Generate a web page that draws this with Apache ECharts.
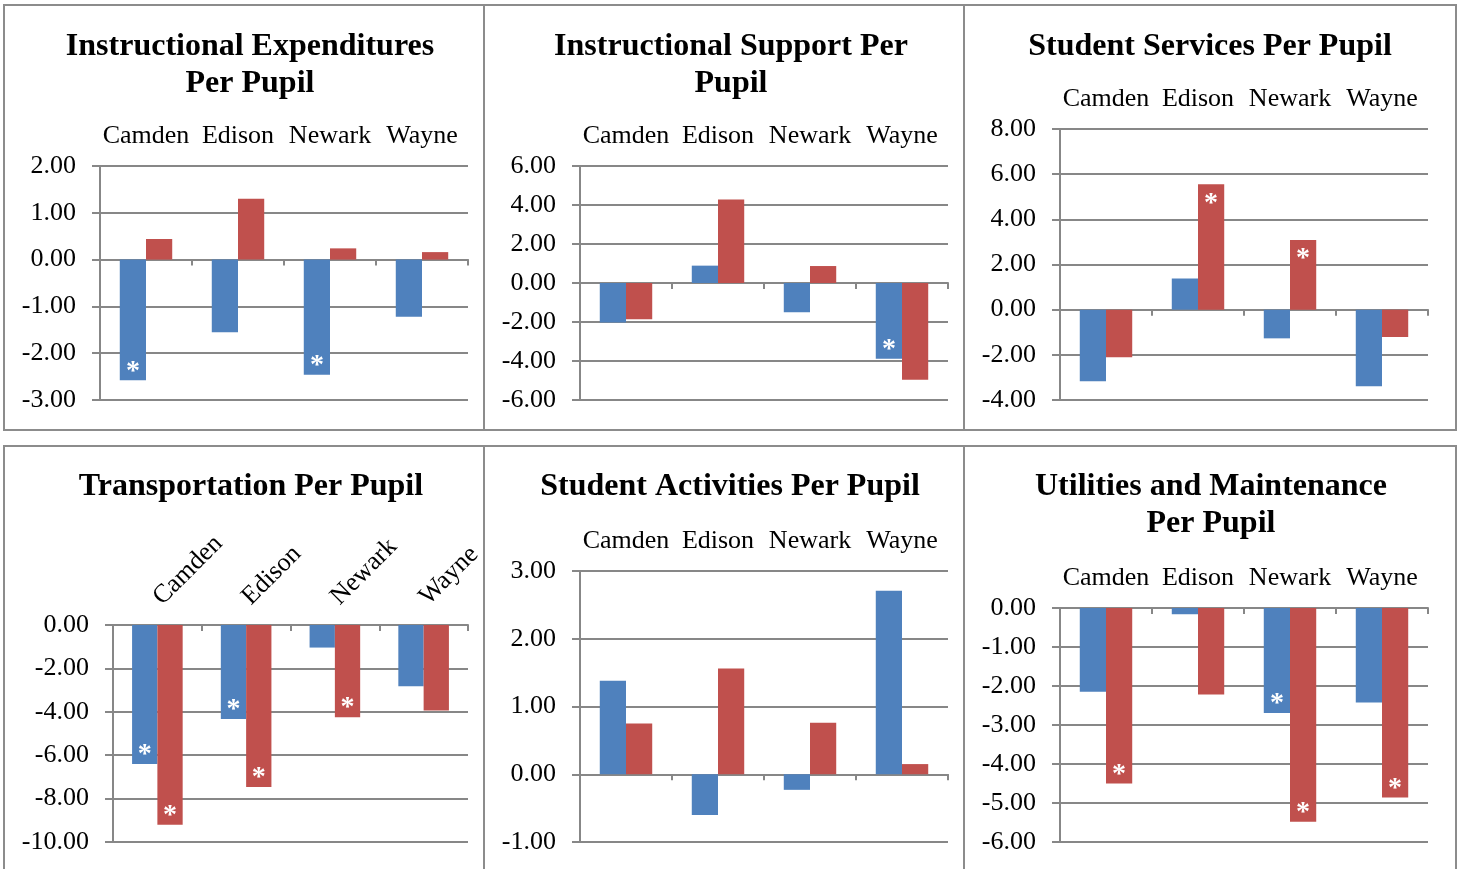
<!DOCTYPE html>
<html>
<head>
<meta charset="utf-8">
<script src="https://cdn.jsdelivr.net/npm/echarts@6/dist/echarts.min.js"></script>
<style>
  html, body { margin: 0; padding: 0; background: #fff; }
  #chart { width: 1463px; height: 869px; }
</style>
</head>
<body>
<div id="chart"></div>
<script>
// districts
const categories = ['Camden', 'Edison', 'Newark', 'Wayne'];

// values per panel: blue series, red series, and where the "*" marks go
const instrExpBlue = [-2.58, -1.55, -2.46, -1.22];
const instrExpRed = [0.44, 1.30, 0.24, 0.16];
const instrExpStarBlue = [1, 0, 1, 0];
const instrExpStarRed = [0, 0, 0, 0];

const instrSupBlue = [-2.03, 0.89, -1.50, -3.89];
const instrSupRed = [-1.86, 4.28, 0.87, -4.96];
const instrSupStarBlue = [0, 0, 0, 1];
const instrSupStarRed = [0, 0, 0, 0];

const studServBlue = [-3.17, 1.38, -1.27, -3.39];
const studServRed = [-2.11, 5.55, 3.09, -1.21];
const studServStarBlue = [0, 0, 0, 0];
const studServStarRed = [0, 1, 1, 0];

const transpBlue = [-6.41, -4.33, -1.04, -2.82];
const transpRed = [-9.20, -7.47, -4.25, -3.94];
const transpStarBlue = [1, 1, 0, 0];
const transpStarRed = [1, 1, 1, 0];

const activBlue = [1.38, -0.60, -0.23, 2.71];
const activRed = [0.75, 1.56, 0.76, 0.15];
const activStarBlue = [0, 0, 0, 0];
const activStarRed = [0, 0, 0, 0];

const utilBlue = [-2.15, -0.16, -2.69, -2.42];
const utilRed = [-4.50, -2.22, -5.48, -4.86];
const utilStarBlue = [0, 0, 1, 0];
const utilStarRed = [1, 0, 1, 1];

// y axis ticks: [min, max, step]
const instrExpTicks = [-3, 2, 1];
const instrSupTicks = [-6, 6, 2];
const studServTicks = [-4, 8, 2];
const transpTicks = [-10, 0, 2];
const activTicks = [-1, 3, 1];
const utilTicks = [-6, 0, 1];

const FONT = '"Liberation Serif", "Times New Roman", serif';
const GRAY = '#878787';
const BLUE = '#4F81BD';
const RED = '#C0504D';

const panels = [
  { title: 'Instructional Expenditures\nPer Pupil', tx: 250, ty: 28,
    box: [4, 5, 480, 425], grid: [100, 166, 368, 234],
    blue: instrExpBlue, red: instrExpRed, sb: instrExpStarBlue, sr: instrExpStarRed, ticks: instrExpTicks },
  { title: 'Instructional Support Per\nPupil', tx: 731, ty: 28,
    box: [484, 5, 480, 425], grid: [580, 166, 368, 234],
    blue: instrSupBlue, red: instrSupRed, sb: instrSupStarBlue, sr: instrSupStarRed, ticks: instrSupTicks },
  { title: 'Student Services Per Pupil', tx: 1210, ty: 28,
    box: [964, 5, 492, 425], grid: [1060, 129, 368, 271],
    blue: studServBlue, red: studServRed, sb: studServStarBlue, sr: studServStarRed, ticks: studServTicks },
  { title: 'Transportation Per Pupil', tx: 251, ty: 468, rotate: -45,
    box: [4, 446, 480, 500], grid: [113, 625, 355, 217],
    blue: transpBlue, red: transpRed, sb: transpStarBlue, sr: transpStarRed, ticks: transpTicks },
  { title: 'Student Activities Per Pupil', tx: 730, ty: 468,
    box: [484, 446, 480, 500], grid: [580, 571, 368, 271],
    blue: activBlue, red: activRed, sb: activStarBlue, sr: activStarRed, ticks: activTicks },
  { title: 'Utilities and Maintenance\nPer Pupil', tx: 1211, ty: 468,
    box: [964, 446, 492, 500], grid: [1060, 608, 368, 234],
    blue: utilBlue, red: utilRed, sb: utilStarBlue, sr: utilStarRed, ticks: utilTicks }
];

function barData(values, stars) {
  return values.map((v, i) => {
    if (!stars[i]) return v;
    return {
      value: v,
      label: {
        show: true,
        formatter: '*',
        color: '#fff',
        fontSize: 28,
        fontWeight: 'bold',
        fontFamily: FONT,
        position: v < 0 ? 'insideBottom' : 'insideTop',
        distance: v < 0 ? -5 : 5
      }
    };
  });
}

let grids = [], xAxes = [], yAxes = [], series = [], graphics = [];

panels.forEach((p, k) => {
  graphics.push({
    type: 'rect', silent: true,
    shape: { x: p.box[0], y: p.box[1], width: p.box[2], height: p.box[3] },
    style: { fill: 'none', stroke: '#8c8c8c', lineWidth: 2 }
  });
  graphics.push({
    type: 'text', silent: true, x: p.tx, y: p.ty,
    style: {
      text: p.title, fill: '#000',
      font: 'bold 32px ' + FONT,
      align: 'center', textAlign: 'center', verticalAlign: 'top', textVerticalAlign: 'top',
      lineHeight: 37
    }
  });

  grids.push({ left: p.grid[0], top: p.grid[1], width: p.grid[2], height: p.grid[3] });

  // label axis across the top
  xAxes.push({
    type: 'category', gridIndex: k, position: 'top', data: categories,
    axisLine: { show: false, onZero: false },
    axisTick: { show: false },
    axisLabel: {
      color: '#000', fontSize: 26, fontFamily: FONT, interval: 0,
      margin: p.rotate ? 24 : 17, rotate: p.rotate || 0
    }
  });
  // zero line with the category ticks
  xAxes.push({
    type: 'category', gridIndex: k, position: 'bottom', data: categories,
    axisLine: { show: true, onZero: true, lineStyle: { color: GRAY, width: 2 } },
    axisTick: { show: true, length: 6, lineStyle: { color: GRAY, width: 2 } },
    axisLabel: { show: false }
  });

  yAxes.push({
    type: 'value', gridIndex: k,
    min: p.ticks[0], max: p.ticks[1], interval: p.ticks[2],
    axisLine: { show: true, lineStyle: { color: GRAY, width: 2 } },
    axisTick: { show: true, length: 8, lineStyle: { color: GRAY, width: 2 } },
    splitLine: { show: true, lineStyle: { color: GRAY, width: 2 } },
    axisLabel: {
      color: '#000', fontSize: 26, fontFamily: FONT, margin: 24,
      formatter: v => v.toFixed(2)
    }
  });

  series.push({
    type: 'bar', xAxisIndex: 2 * k, yAxisIndex: k,
    data: barData(p.blue, p.sb), itemStyle: { color: BLUE },
    barGap: '0%', barCategoryGap: '43%', animation: false
  });
  series.push({
    type: 'bar', xAxisIndex: 2 * k, yAxisIndex: k,
    data: barData(p.red, p.sr), itemStyle: { color: RED },
    barGap: '0%', barCategoryGap: '43%', animation: false
  });
});

let chart = echarts.init(document.getElementById('chart'));
chart.setOption({
  animation: false,
  grid: grids,
  xAxis: xAxes,
  yAxis: yAxes,
  series: series,
  graphic: graphics
});
</script>
</body>
</html>
